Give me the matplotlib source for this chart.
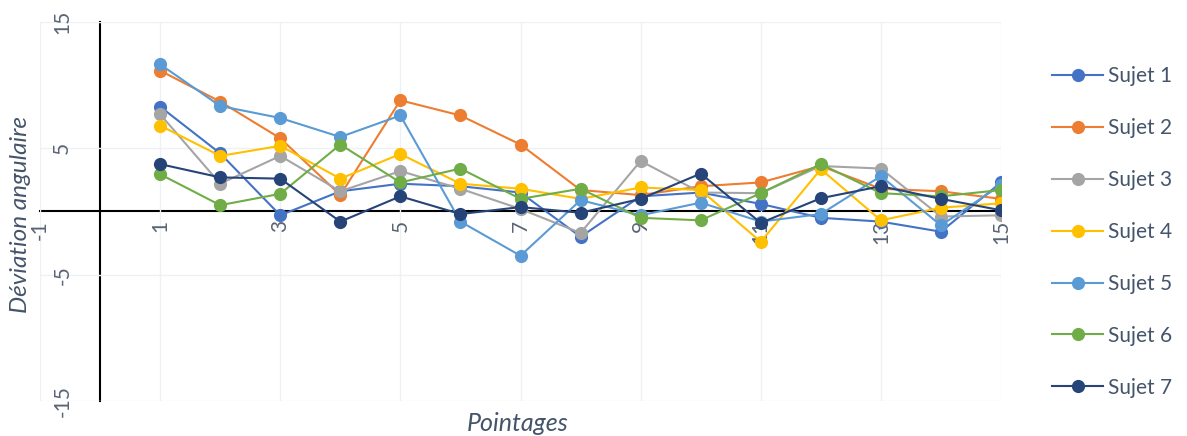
import matplotlib
matplotlib.use("Agg")
from matplotlib import pyplot as plt

plt.rcParams['font.family'] = ['Lato', 'DejaVu Sans']
plt.rcParams['axes.unicode_minus'] = False

# Données
pointages = list(range(1, 16))
sujet_1 = [8.3, 4.6, -0.3, 1.6, 2.2, 2.0, 1.5, -2.0, 1.2, 1.5, 0.6, -0.5, -0.8, -1.6, 2.3]
sujet_2 = [11.15, 8.7, 5.8, 1.3, 8.8, 7.6, 5.3, 1.7, 1.3, 2.0, 2.3, 3.6, 1.8, 1.6, 1.0]
sujet_3 = [7.7, 2.2, 4.4, 1.6, 3.2, 1.8, 0.2, -1.7, 4.0, 1.5, 1.45, 3.6, 3.4, -0.4, -0.3]
sujet_4 = [6.8, 4.4, 5.2, 2.6, 4.55, 2.2, 1.8, 1.0, 1.9, 1.7, -2.4, 3.35, -0.7, 0.3, 0.65]
sujet_5 = [11.65, 8.35, 7.4, 5.9, 7.6, -0.8, -3.5, 0.9, -0.3, 0.7, -0.8, -0.2, 2.8, -1.1, 2.1]
sujet_6 = [2.95, 0.5, 1.4, 5.3, 2.3, 3.4, 1.0, 1.8, -0.5, -0.7, 1.45, 3.75, 1.45, 1.2, 1.7]
sujet_7 = [3.75, 2.7, 2.6, -0.8, 1.2, -0.2, 0.35, -0.1, 1.0, 3.0, -0.9, 1.05, 2.0, 1.0, 0.1]

series = [sujet_1, sujet_2, sujet_3, sujet_4, sujet_5, sujet_6, sujet_7]
noms = ['Sujet 1', 'Sujet 2', 'Sujet 3', 'Sujet 4', 'Sujet 5', 'Sujet 6', 'Sujet 7']
couleurs = ['#4472C4', '#ED7D31', '#A5A5A5', '#FFC000', '#5B9BD5', '#70AD47', '#264478']

x_ticks = [-1, 1, 3, 5, 7, 9, 11, 13, 15]
y_ticks = [-15, -5, 5, 15]

texte = '#44546A'
ticks_col = '#5b6474'

fig = plt.figure(figsize=(11.87, 4.36), dpi=100)
ax = fig.add_axes([40 / 1187, 1 - 401 / 436, (1001 - 40) / 1187, (401 - 22) / 436])

for vals, nom, c in zip(series, noms, couleurs):
    ax.plot(pointages, vals, color=c, lw=1.5, marker='o', markersize=9.5,
            markeredgewidth=0, label=nom)

ax.set_xlim(-1, 15)
ax.set_ylim(-15, 15)
ax.set_xticks(x_ticks)
ax.set_xticklabels([str(t) for t in x_ticks])
ax.set_yticks(y_ticks)
ax.set_yticklabels([str(t) for t in y_ticks])

ax.grid(True, color='#EEF0F3', lw=1)
ax.set_axisbelow(True)

for s in ['top', 'right']:
    ax.spines[s].set_visible(False)
ax.spines['left'].set_position(('data', 0))
ax.spines['bottom'].set_position(('data', 0))
ax.spines['left'].set_color('black')
ax.spines['bottom'].set_color('black')
ax.spines['left'].set_linewidth(1.5)
ax.spines['bottom'].set_linewidth(1.5)
ax.spines['left'].set_zorder(0.5)
ax.spines['bottom'].set_zorder(0.5)

ax.tick_params(axis='x', length=0, pad=6, labelrotation=90, labelsize=15, labelcolor=ticks_col)
ax.tick_params(axis='y', length=0, pad=20, labelrotation=90, labelsize=15, labelcolor=ticks_col)
for lab in ax.get_yticklabels():
    lab.set_va('center')

fig.text(21 / 1187, 1 - 214 / 436, 'Déviation angulaire', rotation=90, style='italic',
         fontsize=17.5, color=texte, ha='center', va='center')
fig.text(518 / 1187, 1 - 423 / 436, 'Pointages', style='italic',
         fontsize=18, color=texte, ha='center', va='center')

leg = fig.legend(loc='center left', bbox_to_anchor=(1052 / 1187, 1 - 232 / 436),
                 frameon=False, fontsize=15, handlelength=2.45, handletextpad=0.25,
                 labelspacing=1.53, borderpad=0, borderaxespad=0)
for t in leg.get_texts():
    t.set_color(texte)

fig.savefig('out.png', dpi=100)
